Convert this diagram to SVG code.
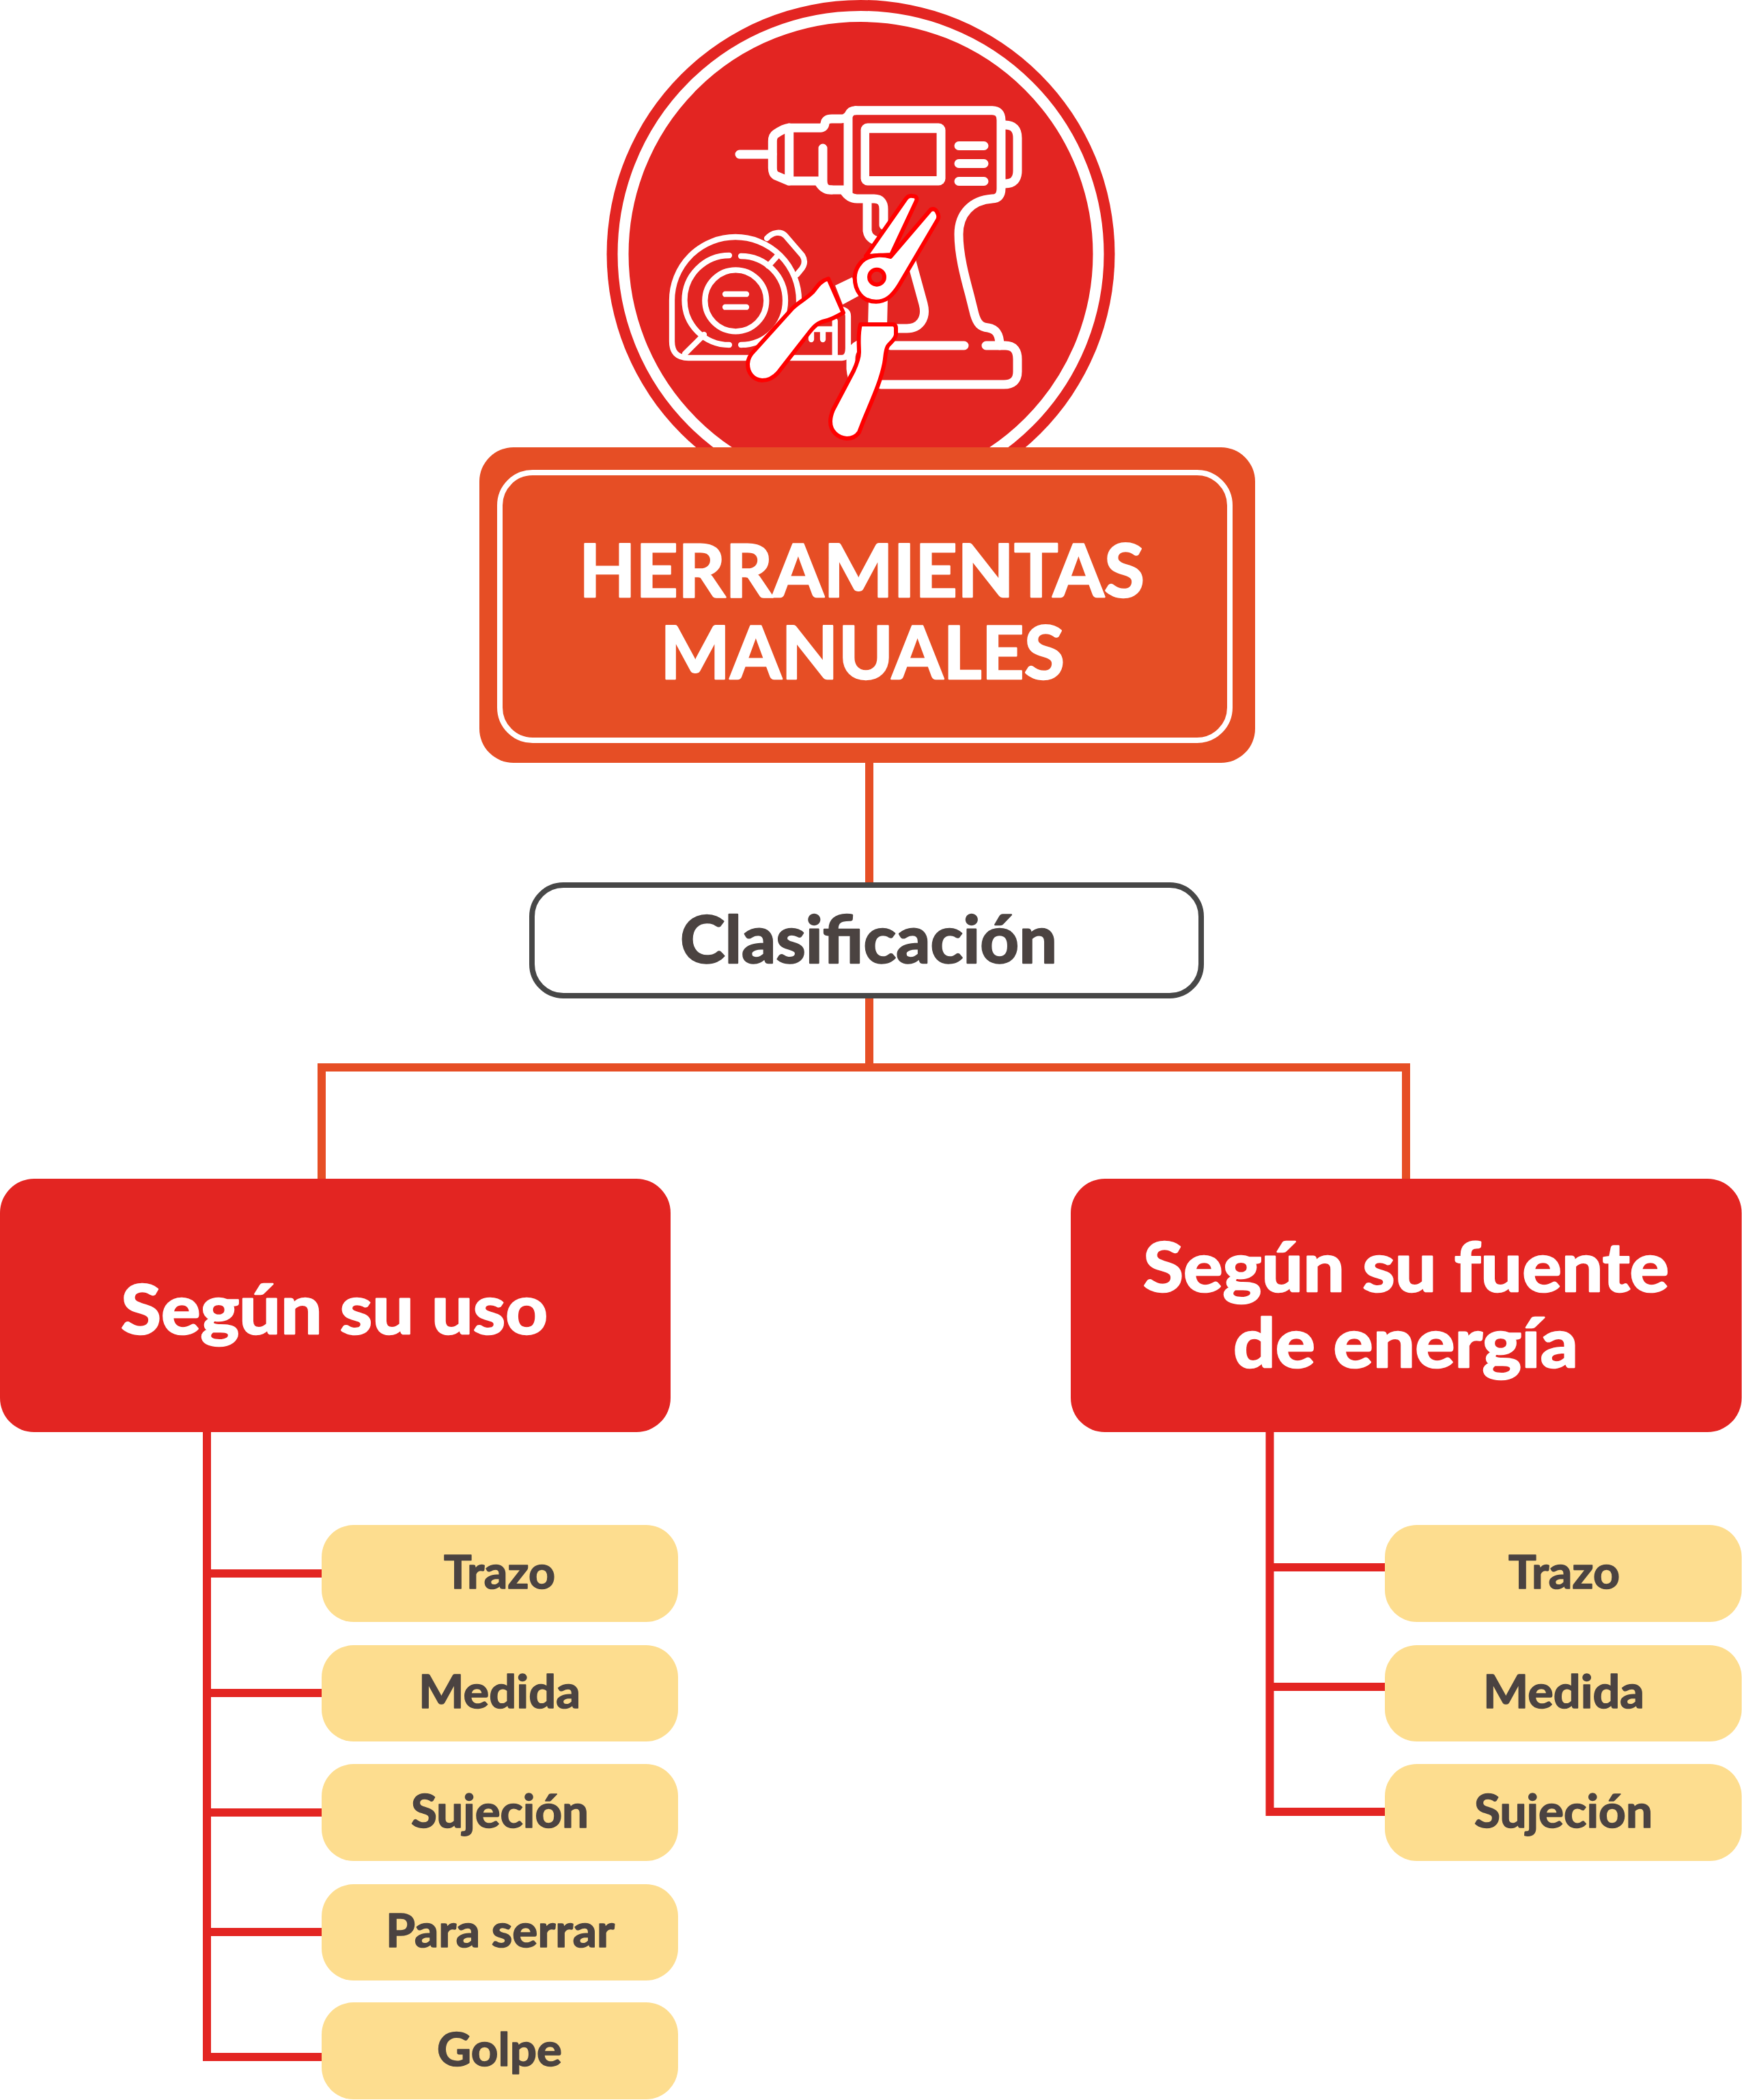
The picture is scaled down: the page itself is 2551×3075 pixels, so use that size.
<svg xmlns="http://www.w3.org/2000/svg" width="2551" height="3075" viewBox="0 0 2551 3075">
<style>
.bg{fill:#fff}
.ln{fill:none;stroke-linejoin:miter;stroke-width:12}
.o{stroke:#E64E25}.r{stroke:#E32522}
.w{fill:none;stroke:#fff;stroke-linecap:round;stroke-linejoin:round}
.w13{stroke-width:13}.w8{stroke-width:8.3}
.pl{fill:#fff;stroke:#f00;stroke-width:6;stroke-linejoin:round}
.t{font-family:"Lato","Carlito","Liberation Sans",sans-serif;font-weight:700;stroke-linejoin:round}
.tw{fill:#fff;stroke:#fff}.td{fill:#4B4341;stroke:#4B4341}
.leaf{fill:#FDDD8F}.main{fill:#E32522}
.big{font-size:108px;stroke-width:2.6px}.mid{font-size:96px;stroke-width:2.4px}.sec{font-size:100px;stroke-width:2.6px}.sm{font-size:66px;stroke-width:1.6px}
</style>
<rect class="bg" width="2551" height="3075"/>
<g id="connectors">
<path class="ln o" d="M1273 1117V1292M1273 1462V1563M471 1726V1563H2059V1726"/>
<path class="ln r" d="M303 2097V3012H471M303 2304H471M303 2479H471M303 2654H471M303 2829H471"/>
<path class="ln r" d="M1859.5 2097V2653H2028M1859.5 2295H2028M1859.5 2470H2028"/>
</g>
<g id="icon">
<circle cx="1260.5" cy="372" r="372" fill="#E32522"/>
<circle cx="1260.5" cy="372" r="348" fill="none" stroke="#fff" stroke-width="16"/>
<g id="drill">
<path class="w w13" d="M1242 285V170M1253 161.7H1453Q1466 162 1466 176V276Q1466 291 1453 291C1423 293 1404 313 1404 343C1404 373 1413 406 1420 432L1427 460C1431 474 1436 479 1447 480C1459 482 1464 490 1464 506"/>
<path class="w w13" d="M1253 161.7Q1245.5 161.7 1243 168Q1239 174 1232 174H1218Q1209 174 1208 181Q1207 187.3 1199 187.3H1155C1148 188 1142 192 1136 196Q1131.3 199 1131.3 207V246Q1131.3 254 1136 257L1155 265H1198Q1205 278 1215 278H1235Q1243 291 1255 291H1280C1290 291 1294 297 1294 306V330"/>
<path class="w w13" d="M1205 217V265Q1205 278 1218 278M1155.7 187V265M1270 298V338Q1272 350 1285 353M1131 226H1083"/>
<path class="w w13" d="M1472 183Q1490 183 1490 202V250Q1490 269 1472 269"/>
<rect x="1260.5" y="180.5" width="124" height="91" rx="10" fill="#fff"/>
<rect x="1273" y="194.7" width="98.6" height="63.3" fill="#E32522"/>
<path class="w w13" d="M1404 213.5H1441M1404 239.5H1441M1404 265.5H1441"/>
<path class="w w13" d="M1304 506H1412M1444 506H1472Q1490 506 1490 526V544Q1490 563 1470 563H1290"/>
<path class="w w13" d="M1332 372L1352 445C1358 468 1345 481 1328 481H1308M1262 503Q1246 508 1246 525V540Q1247 553 1253 562"/>
</g>
<g id="tape">
<path class="w w8" d="M1008 524Q984 524 984 500V440A93 93 0 0 1 1170 440V450M1008 524H1233Q1242 524 1242 510V463Q1242 455 1233 453"/>
<path class="w w8" d="M1123 349C1131 340 1143 338 1150 345L1175 374Q1182 385 1172 396L1167 402M1125 389.5L1139 374M1003 518L1031 490"/>
<path class="w w8" d="M1068 374A65 65 0 0 0 1068 505M1085 375A65 65 0 0 1 1085 505"/>
<circle class="w w8" cx="1077.3" cy="440.3" r="45"/>
<path class="w w8" d="M1062 430.7H1093M1062 449.7H1093M1222.7 470V520M1190 482H1222.7M1188 482V497M1205 482V497"/>
</g>
<g id="pliers">
<path d="M1223 418L1248 406L1258 433L1234 446ZM1272 436H1300L1299 478H1271Z" fill="#fff"/>
<path class="pl" d="M1305 373L1342 294Q1344 287 1336 287Q1330 286 1326 292L1268 375Z"/>
<path class="pl" d="M1304 376L1363 307Q1369 304 1372 310Q1376 317 1373 322L1317 417C1306 435 1296 441.7 1283 441.7C1262 441.7 1251.7 425 1251.7 406.7C1251.7 392 1262 382 1267 379C1280 372 1295 373 1304 376Z"/>
<circle cx="1284" cy="405.7" r="11" fill="#E32522" stroke="#f00" stroke-width="6"/>
<path class="pl" d="M1213 408L1235 458C1225 463 1218 468 1208 470C1198 472 1192 478 1185 487L1139 546C1130 556 1122 557 1116 557C1102 556 1095 545 1095 533C1095 525 1100 518 1105 513L1160 452C1170 442 1180 438 1190 428C1197 420 1200 412 1213 408Z"/>
<path class="pl" d="M1260 475H1308Q1312 476 1312 480V490C1311 498 1302 503 1300 507C1296 515 1297 522 1295 532C1289 562 1275 590 1263 620L1258 633C1254 639 1248 642 1240 642C1227 641 1216 632 1216 617C1216 610 1218 605 1220 600L1250 543C1256 530 1258 522 1258 516C1258 505 1256 490 1260 475Z"/>
</g>
</g>
<g id="node-herramientas">
<rect x="702" y="655" width="1136" height="462" rx="50" fill="#E64E25"/>
<rect x="732" y="692" width="1069" height="392" rx="48" fill="none" stroke="#fff" stroke-width="8"/>
<text class="t tw big" x="848" y="874" textLength="828" lengthAdjust="spacingAndGlyphs">HERRAMIENTAS</text>
<text class="t tw big" x="967" y="994" textLength="592" lengthAdjust="spacingAndGlyphs">MANUALES</text>
</g>
<g id="node-clasificacion">
<rect x="779" y="1296" width="980" height="162" rx="46" fill="#fff" stroke="#474747" stroke-width="8"/>
<text class="t td mid" x="996" y="1410" textLength="552" lengthAdjust="spacingAndGlyphs">Clasificación</text>
</g>
<g id="node-uso">
<rect x="0" y="1726" width="982" height="371" rx="50" class="main"/>
<text class="t tw sec" x="177" y="1953" textLength="625" lengthAdjust="spacingAndGlyphs">Según su uso</text>
</g>
<g id="node-fuente">
<rect x="1568" y="1726" width="982.5" height="371" rx="50" class="main"/>
<text class="t tw sec" x="1674" y="1891" textLength="770" lengthAdjust="spacingAndGlyphs">Según su fuente</text>
<text class="t tw sec" x="1806" y="2002" textLength="505" lengthAdjust="spacingAndGlyphs">de energía</text>
</g>
<g id="leaf-l1"><rect x="471" y="2233" width="522" height="142" rx="47" class="leaf"/><text class="t td sm" x="650" y="2326" textLength="163" lengthAdjust="spacingAndGlyphs">Trazo</text></g>
<g id="leaf-l2"><rect x="471" y="2409" width="522" height="141" rx="47" class="leaf"/><text class="t td sm" x="613" y="2501" textLength="237" lengthAdjust="spacingAndGlyphs">Medida</text></g>
<g id="leaf-l3"><rect x="471" y="2583" width="522" height="142" rx="47" class="leaf"/><text class="t td sm" x="602" y="2676" textLength="260" lengthAdjust="spacingAndGlyphs">Sujeción</text></g>
<g id="leaf-l4"><rect x="471" y="2759" width="522" height="141" rx="47" class="leaf"/><text class="t td sm" x="565" y="2851" textLength="335" lengthAdjust="spacingAndGlyphs">Para serrar</text></g>
<g id="leaf-l5"><rect x="471" y="2932" width="522" height="142" rx="47" class="leaf"/><text class="t td sm" x="640" y="3025" textLength="183" lengthAdjust="spacingAndGlyphs">Golpe</text></g>
<g id="leaf-r1"><rect x="2028" y="2233" width="522.5" height="142" rx="47" class="leaf"/><text class="t td sm" x="2209" y="2326" textLength="163" lengthAdjust="spacingAndGlyphs">Trazo</text></g>
<g id="leaf-r2"><rect x="2028" y="2409" width="522.5" height="141" rx="47" class="leaf"/><text class="t td sm" x="2172" y="2501" textLength="236" lengthAdjust="spacingAndGlyphs">Medida</text></g>
<g id="leaf-r3"><rect x="2028" y="2583" width="522.5" height="142" rx="47" class="leaf"/><text class="t td sm" x="2159" y="2676" textLength="261" lengthAdjust="spacingAndGlyphs">Sujeción</text></g>
</svg>
